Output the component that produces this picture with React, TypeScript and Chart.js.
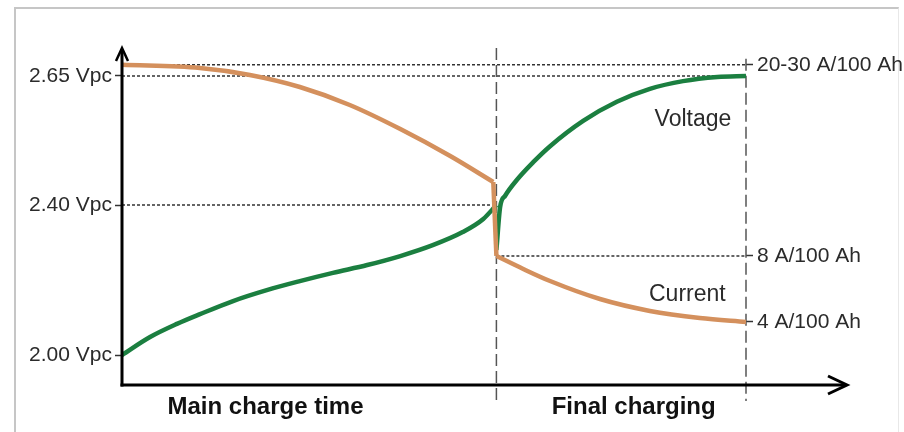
import React, { useEffect, useRef } from 'react';
import { Chart, LinearScale, registerables } from 'chart.js';

Chart.register(...registerables);

// ---------------- data ----------------
const voltageTicks = [2.0, 2.4, 2.65];
const voltageTickLabels = ['2.00 Vpc', '2.40 Vpc', '2.65 Vpc'];
const currentTicks = [4, 8, 25];
const currentTickLabels = ['4 A/100 Ah', '8 A/100 Ah', '20-30 A/100 Ah'];
const phaseTicks = [23, 82];
const phaseLabels = ['Main charge time', 'Final charging'];
const phaseBoundary = 60;
const timeEnd = 100;

// voltage during main charge
const mainTime = [0, 4.5, 8.8, 12.5, 17.8, 23.2, 28.5, 33.8, 39.3, 44.6, 49.8, 54.6, 57.9, 60];
const mainVoltage = [2.0, 2.048, 2.083, 2.109, 2.144, 2.173, 2.197, 2.219, 2.24, 2.264, 2.293, 2.328, 2.363, 2.4];
// voltage during final charging
const finalTime = [60, 60.6, 61.4, 63.3, 65.9, 68.6, 73.9, 79.3, 84.6, 89.9, 95.4, 100];
const finalVoltage = [2.28, 2.395, 2.418, 2.449, 2.483, 2.514, 2.563, 2.6, 2.625, 2.64, 2.648, 2.65];
// charging current, main charge
const mainCurrentTime = [0, 12.5, 20.5, 28.5, 36.5, 44.6, 52.6, 59.5];
const mainCurrent = [25, 24.72, 24.1, 23.03, 21.43, 19.29, 16.89, 14.58];
// current drop at the phase change
const dropCurrentTime = [59.5, 60];
const dropCurrent = [14.58, 8];
// charging current, final charging
const finalCurrentTime = [60, 64.3, 68.6, 76.6, 84.6, 92.6, 100];
const finalCurrent = [8, 7.21, 6.48, 5.39, 4.67, 4.24, 4.0];

// reference (dotted) levels
const refLines = [
  { axis: 'y', value: 2.65, from: 0, to: 100 },
  { axis: 'y', value: 2.4, from: 0, to: 60 },
  { axis: 'yI', value: 25, from: 0, to: 100 },
  { axis: 'yI', value: 8, from: 60, to: 100 },
];

const seriesLabels = [
  { text: 'Voltage', axis: 'y', x: 91.5, y: 2.565 },
  { text: 'Current', axis: 'yI', x: 90.6, y: 5.63 },
];

// schematic (non-linear) axes: value -> fraction of axis
const scaleStops: Record<string, number[][]> = {
  y: [[1.92, 0], [2.0, 0.089], [2.4, 0.534], [2.65, 0.917], [2.704, 1]],
  yI: [[0, 0], [4, 0.187], [8, 0.383], [25, 0.95], [30, 1]],
};

function interp(v: number, stops: number[][], a: number, b: number) {
  for (let i = 1; i < stops.length; i++) {
    if (v <= stops[i][a] || i === stops.length - 1) {
      const s0 = stops[i - 1];
      const s1 = stops[i];
      return s0[b] + ((v - s0[a]) * (s1[b] - s0[b])) / (s1[a] - s0[a]);
    }
  }
  return 0;
}

class PiecewiseScale extends LinearScale {
  static id = 'piecewise';
  static defaults = LinearScale.defaults;
  getPixelForValue(value: number) {
    if (value === null || value === undefined || isNaN(value)) return NaN;
    const stops = scaleStops[(this as any).id];
    return this.getPixelForDecimal(interp(value, stops, 0, 1));
  }
  getValueForPixel(pixel: number) {
    const stops = scaleStops[(this as any).id];
    return interp(this.getDecimalForPixel(pixel), stops, 1, 0);
  }
}
Chart.register(PiecewiseScale as any);

const GREEN = '#1b7f40';
const ORANGE = '#d4905d';
const TEXT = '#2b2b2b';
const FONT = "'Liberation Sans', Arial, sans-serif";

const decorPlugin = {
  id: 'decor',
  beforeDatasetsDraw(chart: any) {
    const { ctx, chartArea, scales } = chart;
    const xs = scales.x;
    ctx.save();
    ctx.lineWidth = 1.5;
    ctx.strokeStyle = '#333';
    ctx.setLineDash([3, 2]);
    for (const r of refLines) {
      const py = scales[r.axis].getPixelForValue(r.value);
      ctx.beginPath();
      ctx.moveTo(xs.getPixelForValue(r.from), py);
      ctx.lineTo(xs.getPixelForValue(r.to), py);
      ctx.stroke();
    }
    ctx.setLineDash([12, 5]);
    ctx.strokeStyle = '#555';
    const bx = xs.getPixelForValue(phaseBoundary);
    ctx.beginPath();
    ctx.moveTo(bx, chartArea.top);
    ctx.lineTo(bx, chartArea.bottom + 16);
    ctx.stroke();
    const ex = xs.getPixelForValue(timeEnd);
    ctx.beginPath();
    ctx.moveTo(ex, scales.yI.getPixelForValue(currentTicks[currentTicks.length - 1]) - 6);
    ctx.lineTo(ex, chartArea.bottom + 16);
    ctx.stroke();
    ctx.restore();
  },
  afterDatasetsDraw(chart: any) {
    const { ctx, chartArea, scales } = chart;
    ctx.save();
    ctx.strokeStyle = '#000';
    ctx.lineWidth = 3;
    ctx.lineCap = 'butt';
    // y axis with arrow
    const ax = chartArea.left;
    ctx.beginPath();
    ctx.moveTo(ax, chartArea.bottom + 1.5);
    ctx.lineTo(ax, chartArea.top + 1);
    ctx.stroke();
    ctx.lineWidth = 2.5;
    ctx.beginPath();
    ctx.moveTo(ax - 6, chartArea.top + 13);
    ctx.lineTo(ax, chartArea.top);
    ctx.lineTo(ax + 6, chartArea.top + 13);
    ctx.stroke();
    // x axis with arrow
    const ay = chartArea.bottom;
    const endX = chartArea.right + 101;
    ctx.lineWidth = 3;
    ctx.beginPath();
    ctx.moveTo(ax - 1.5, ay);
    ctx.lineTo(endX - 1, ay);
    ctx.stroke();
    ctx.beginPath();
    ctx.moveTo(endX - 19, ay - 9);
    ctx.lineTo(endX, ay);
    ctx.lineTo(endX - 19, ay + 9);
    ctx.stroke();
    // series labels
    ctx.fillStyle = TEXT;
    ctx.font = `23px ${FONT}`;
    ctx.textAlign = 'center';
    ctx.textBaseline = 'middle';
    for (const l of seriesLabels) {
      ctx.fillText(l.text, scales.x.getPixelForValue(l.x), scales[l.axis].getPixelForValue(l.y));
    }
    ctx.restore();
  },
};

const toPoints = (xs: number[], ys: number[]) => xs.map((x, i) => ({ x, y: ys[i] }));

const lineStyle = (color: string) => ({
  borderColor: color,
  borderWidth: 4.5,
  pointRadius: 0,
  cubicInterpolationMode: 'monotone' as const,
  fill: false,
});

export default function App() {
  const ref = useRef<HTMLCanvasElement>(null);
  useEffect(() => {
    const chart = new Chart(ref.current as HTMLCanvasElement, {
      type: 'line',
      data: {
        datasets: [
          { label: 'Current (main charge)', data: toPoints(mainCurrentTime, mainCurrent), yAxisID: 'yI', ...lineStyle(ORANGE) },
          { label: 'Current (drop)', data: toPoints(dropCurrentTime, dropCurrent), yAxisID: 'yI', ...lineStyle(ORANGE), cubicInterpolationMode: 'default', tension: 0 },
          { label: 'Current (final charging)', data: toPoints(finalCurrentTime, finalCurrent), yAxisID: 'yI', ...lineStyle(ORANGE) },
          { label: 'Voltage (main charge)', data: toPoints(mainTime, mainVoltage), yAxisID: 'y', ...lineStyle(GREEN) },
          { label: 'Voltage (final charging)', data: toPoints(finalTime, finalVoltage), yAxisID: 'y', ...lineStyle(GREEN) },
        ],
      },
      options: {
        animation: false,
        responsive: true,
        maintainAspectRatio: false,
        layout: { padding: { top: 48, left: 0, right: 0, bottom: 0 } },
        plugins: { legend: { display: false }, tooltip: { enabled: false } },
        scales: {
          x: {
            type: 'linear',
            min: 0,
            max: timeEnd,
            afterFit: (s: any) => {
              s.height = 47;
            },
            afterBuildTicks: (s: any) => {
              s.ticks = phaseTicks.map((v) => ({ value: v }));
            },
            ticks: {
              autoSkip: false,
              maxRotation: 0,
              padding: 0,
              color: '#111',
              font: { family: FONT, size: 24, weight: 'bold' },
              callback: (_v: any, i: number) => phaseLabels[i],
            },
            grid: { display: false },
            border: { display: false },
          },
          y: {
            type: 'piecewise' as any,
            position: 'left',
            min: 1.92,
            max: 2.704,
            afterFit: (s: any) => {
              s.width = 122;
            },
            afterBuildTicks: (s: any) => {
              s.ticks = voltageTicks.map((v) => ({ value: v }));
            },
            ticks: {
              autoSkip: false,
              padding: 3,
              color: TEXT,
              font: { family: FONT, size: 21 },
              callback: (_v: any, i: number) => voltageTickLabels[i],
            },
            grid: { drawOnChartArea: false, drawTicks: true, tickLength: 7, tickColor: '#333', tickWidth: 1.5 },
            border: { display: false },
          },
          yI: {
            type: 'piecewise' as any,
            position: 'right',
            min: 0,
            max: 30,
            afterFit: (s: any) => {
              s.width = 158;
            },
            afterBuildTicks: (s: any) => {
              s.ticks = currentTicks.map((v) => ({ value: v }));
            },
            ticks: {
              autoSkip: false,
              padding: 4,
              color: TEXT,
              font: { family: FONT, size: 21 },
              callback: (_v: any, i: number) => currentTickLabels[i],
            },
            grid: { drawOnChartArea: false, drawTicks: true, tickLength: 7, tickColor: '#333', tickWidth: 1.5 },
            border: { display: false },
          },
        },
      } as any,
      plugins: [decorPlugin],
    });
    return () => chart.destroy();
  }, []);

  return (
    <div style={{ position: 'fixed', left: 0, top: 0, width: 904, height: 432, background: '#fff', overflow: 'hidden' }}>
      <div
        style={{
          position: 'absolute',
          left: 14,
          top: 7,
          width: 882,
          height: 440,
          borderTop: '2px solid #c6c6c6',
          borderLeft: '2px solid #c6c6c6',
          borderRight: '1px solid #e8e8e8',
        }}
      />
      <div style={{ position: 'absolute', left: 0, top: 0, width: 904, height: 432 }}>
        <canvas ref={ref} />
      </div>
    </div>
  );
}
